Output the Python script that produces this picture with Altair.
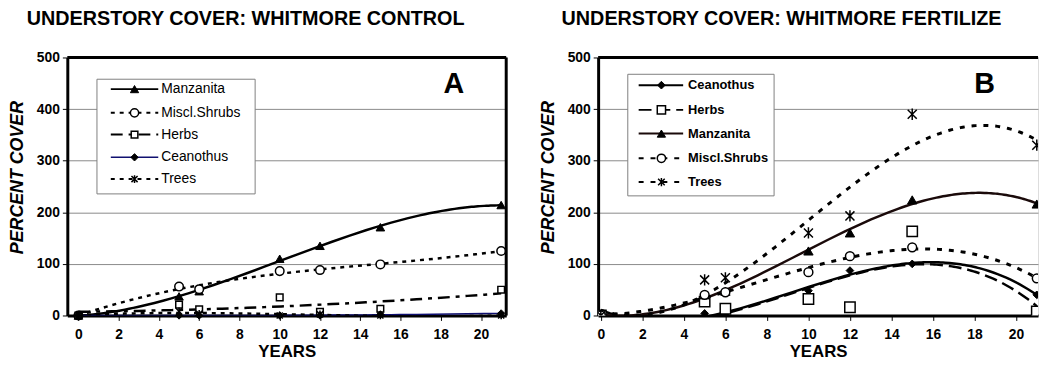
import altair as alt
import pandas as pd

# ---------------- data ----------------
years = [0, 5, 6, 10, 12, 15, 21]

series_a = ["Manzanita", "Miscl.Shrubs", "Herbs", "Ceanothus", "Trees"]
a_manzanita = [0, 37, 47, 110, 135, 171, 214]
a_shrubs = [0, 56, 51, 86, 88, 99, 125]
a_herbs = [0, 21, 12, 35, 7, 13, 50]
a_ceanothus = [0, 0, 0, 0, 0, 2, 4]
a_trees = [0, 8, 3, 0, 2, 0, 0]

series_b = ["Ceanothus", "Herbs", "Manzanita", "Miscl.Shrubs", "Trees"]
b_ceanothus = [0, 4, 1, 48, 87, 100, 40]
b_herbs = [0, 27, 13, 32, 16, 163, 8]
b_manzanita = [0, 40, 47, 125, 160, 224, 216]
b_shrubs = [0, 40, 45, 84, 115, 132, 72]
b_trees = [0, 69, 73, 160, 193, 390, 330]

title_a = "UNDERSTORY COVER: WHITMORE CONTROL"
title_b = "UNDERSTORY COVER: WHITMORE FERTILIZE"
y_ticks = [0, 100, 200, 300, 400, 500]
x_ticks = [0, 2, 4, 6, 8, 10, 12, 14, 16, 18, 20]

FONT = "Liberation Sans"
ASTER = "M0,-1L0,1M-0.8,-0.8L0.8,0.8M-0.8,0.8L0.8,-0.8"


def long_df(names, arrays):
    rows = []
    for name, vals in zip(names, arrays):
        for yr, v in zip(years, vals):
            rows.append({"series": name, "year": yr, "cover": v})
    return pd.DataFrame(rows)


df_a = long_df(series_a, [a_manzanita, a_shrubs, a_herbs, a_ceanothus, a_trees])
df_b = long_df(series_b, [b_ceanothus, b_herbs, b_manzanita, b_shrubs, b_trees])

# styles (trend-line order per series)
styles_a = {
    "Manzanita": dict(color="black", lw=2.5, dash=None, shape="triangle-up", filled=True, size=75, order=3),
    "Miscl.Shrubs": dict(color="black", lw=2.5, dash=[4, 5], shape="circle", filled=False, size=75, order=3),
    "Herbs": dict(color="black", lw=2.5, dash=[12, 6, 4, 6], shape="square", filled=False, size=45, order=2),
    "Ceanothus": dict(color="#101070", lw=1.5, dash=None, shape="diamond", filled=True, size=55, order=3),
    "Trees": dict(color="black", lw=2.5, dash=[4, 5], shape=ASTER, filled=None, size=60, order=3),
}
styles_b = {
    "Ceanothus": dict(color="black", lw=2.5, dash=None, shape="diamond", filled=True, size=60, order=3),
    "Herbs": dict(color="black", lw=2.5, dash=[13, 6], shape="square", filled=False, size=110, order=3),
    "Manzanita": dict(color="#1a0a0a", lw=2.5, dash=None, shape="triangle-up", filled=True, size=90, order=3),
    "Miscl.Shrubs": dict(color="black", lw=3, dash=[5, 7], shape="circle", filled=False, size=80, order=3),
    "Trees": dict(color="black", lw=3, dash=[5, 7], shape=ASTER, filled=None, size=130, order=3),
}


def marker_kwargs(st, clip):
    kw = dict(shape=st["shape"], size=st["size"], opacity=1, strokeOpacity=1, clip=clip)
    if st["filled"] is True:
        kw.update(filled=True, fill="black", stroke="black", strokeWidth=1, fillOpacity=1)
    elif st["filled"] is False:
        kw.update(filled=False, fill="white", fillOpacity=1, stroke="black", strokeWidth=1.5)
    else:
        kw.update(filled=False, fill="transparent", stroke="black", strokeWidth=1.5)
    return kw


def line_kwargs(st):
    kw = dict(color=st["color"], strokeWidth=st["lw"], clip=True)
    if st["dash"]:
        kw["strokeDash"] = st["dash"]
    return kw


def panel(df, names, styles, xdom, width, height, title, title_dx, legend_cfg, letter, point_clip, right_border):
    xscale = alt.Scale(domain=xdom, nice=False, zero=False)
    yscale = alt.Scale(domain=[0, 500], nice=False)
    xaxis = alt.Axis(values=x_ticks, title="YEARS", grid=False, domain=True, domainColor="black",
                     domainWidth=3, tickColor="black", tickSize=5, tickWidth=1,
                     labelFont=FONT, labelFontSize=14, labelFontWeight="bold", labelColor="black",
                     labelPadding=7, labelFlush=False, titleFont=FONT, titleFontSize=17,
                     titleFontWeight="bold", titleColor="black", titlePadding=3)
    yaxis = alt.Axis(values=y_ticks, title="PERCENT COVER", grid=True, gridColor="#8a8a8a",
                     gridWidth=1, domain=True, domainColor="black", domainWidth=3,
                     tickColor="black", tickSize=5, tickWidth=1,
                     labelFont=FONT, labelFontSize=14, labelFontWeight="bold", labelColor="black",
                     labelPadding=3, titleFont=FONT, titleFontSize=18, titleFontWeight="bold",
                     titleFontStyle="italic", titleColor="black", titlePadding=10, titleY=121)
    X = alt.X("year:Q", scale=xscale, axis=xaxis)
    Y = alt.Y("cover:Q", scale=yscale, axis=yaxis)

    layers = []
    base = alt.Chart(df)
    for name in names:
        st = styles[name]
        layers.append(
            base.transform_filter(alt.datum.series == name)
            .transform_regression("year", "cover", method="poly", order=st["order"], extent=[0, 21])
            .mark_line(**line_kwargs(st))
            .encode(x=X, y=Y)
        )
    for name in names:
        st = styles[name]
        layers.append(
            base.transform_filter(alt.datum.series == name)
            .mark_point(**marker_kwargs(st, point_clip))
            .encode(x=X, y=Y)
        )
    one = pd.DataFrame({"k": [0]})
    # top border
    layers.append(alt.Chart(one).mark_rule(color="black", strokeWidth=3).encode(y=alt.datum(500)))
    if right_border:
        layers.append(alt.Chart(one).mark_rule(color="black", strokeWidth=3).encode(x=alt.datum(xdom[1])))

    # legend box
    box, rows_y, line_x, marker_x, text_x, fw, fs = legend_cfg
    layers.append(
        alt.Chart(one).mark_rect(fill="white", stroke="#808080", strokeWidth=1)
        .encode(x=alt.value(box[0]), x2=alt.value(box[1]), y=alt.value(box[2]), y2=alt.value(box[3]))
    )
    for name, yy in zip(names, rows_y):
        st = styles[name]
        d = pd.DataFrame({"label": [name]})
        rk = dict(color=st["color"], strokeWidth=2 if st["lw"] > 2 else 1.5)
        if st["dash"]:
            rk["strokeDash"] = st["dash"]
        layers.append(alt.Chart(d).mark_rule(**rk).encode(
            x=alt.value(line_x[0]), x2=alt.value(line_x[1]), y=alt.value(yy)))
        mk = marker_kwargs(st, False)
        mk["size"] = min(st["size"], 70)
        layers.append(alt.Chart(d).mark_point(**mk).encode(x=alt.value(marker_x), y=alt.value(yy)))
        layers.append(alt.Chart(d).mark_text(align="left", baseline="middle", font=FONT,
                                             fontSize=fs, fontWeight=fw, color="black").encode(
            x=alt.value(text_x), y=alt.value(yy), text="label:N"))

    lt = pd.DataFrame({"t": [letter[0]]})
    layers.append(alt.Chart(lt).mark_text(font=FONT, fontSize=29, fontWeight="bold", color="black",
                                          align="center", baseline="middle").encode(
        x=alt.value(letter[1]), y=alt.value(letter[2]), text="t:N"))

    return alt.layer(*layers).properties(
        width=width, height=height,
        title=alt.TitleParams(text=title, anchor="start", frame="group", dx=title_dx,
                              font=FONT, fontSize=20, fontWeight="bold", color="black", offset=22),
    )


legend_a = ((30, 190, 22, 138), [32, 56, 78, 101, 123], (44, 92), 68, 95, "normal", 14)
legend_b = ((30, 178, 17, 140), [28, 53, 77, 102, 126], (41, 86), 64, 91, "bold", 13)

pa = panel(df_a, series_a, styles_a, [-0.55, 21.25], 444, 261, title_a, -41, legend_a,
           ("A", 391, 27), False, True)
pb = panel(df_b, series_b, styles_b, [-0.13, 21.06], 445, 261, title_b, -37, legend_b,
           ("B", 391, 27), True, False)

chart = alt.hconcat(pa, pb, spacing=30).properties(
    padding={"left": 0, "top": -2, "right": 0, "bottom": -1}
).configure_view(strokeWidth=0).configure(background="white")

chart.save("out.html", embed_options={"renderer": "svg", "actions": False})
